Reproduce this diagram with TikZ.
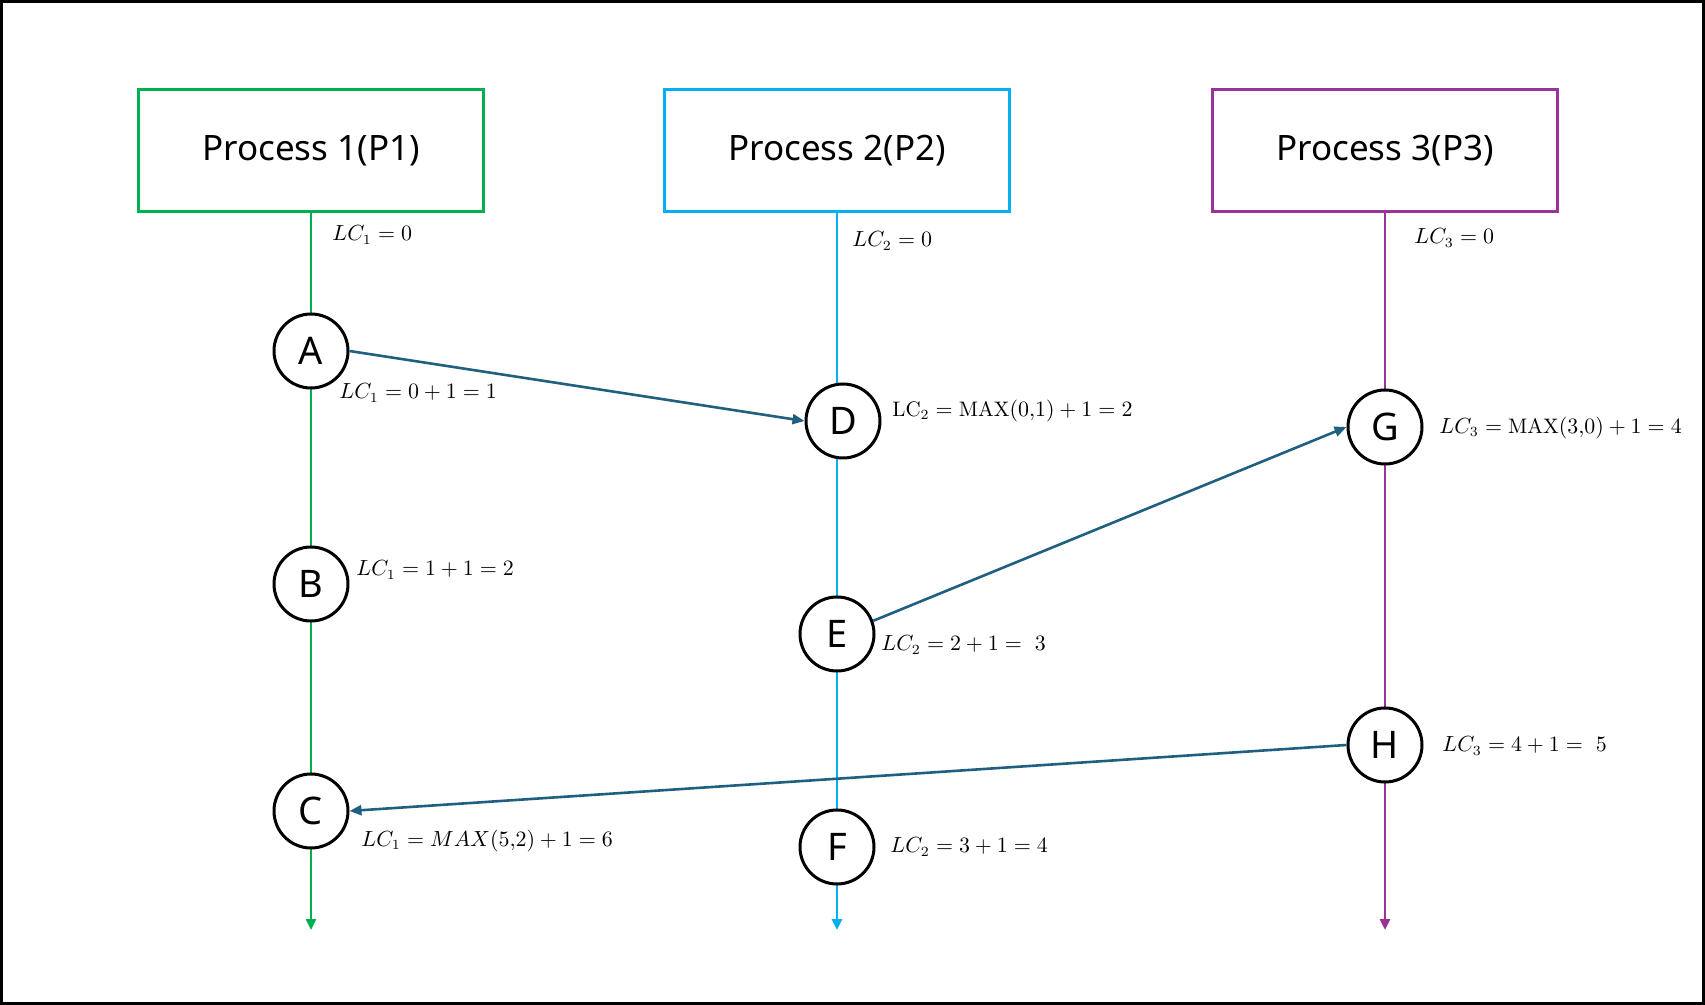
\documentclass[tikz,border=0pt]{standalone}
\usepackage{fontspec}
\newfontfamily\procfont{Noto Sans}
\usetikzlibrary{arrows.meta,positioning}

\definecolor{pgreen}{RGB}{0,176,80}
\definecolor{pblue}{RGB}{0,176,240}
\definecolor{ppurple}{RGB}{153,51,153}
\definecolor{msgblue}{RGB}{31,95,128}

\begin{document}
\begin{tikzpicture}[
  x=0.5pt, y=-0.5pt,
  proc/.style={draw, line width=1.5pt, minimum width=172.5pt, minimum height=61pt, font=\procfont\fontsize{17.5}{20}\selectfont},
  event/.style={draw, circle, fill=white, line width=1.5pt, minimum size=37pt, inner sep=0pt, font=\procfont\fontsize{19}{22}\selectfont},
  lc/.style={anchor=west, inner sep=0pt, font=\fontsize{10.5}{12}\selectfont},
  timeline/.style={line width=1.3pt, -{Triangle[length=5.5pt,width=5pt]}},
  msg/.style={draw=msgblue, line width=1.3pt, -{Triangle[length=6pt,width=5pt]}}
]
\useasboundingbox (0,0) rectangle (1705,1005);
\draw[line width=1.5pt] (1.5,1.5) rectangle (1703.5,1003.5);

% Processes
\node[proc, draw=pgreen] (p1) at (311,151) {Process 1(P1)};
\node[proc, draw=pblue] (p2) at (837,151) {Process 2(P2)};
\node[proc, draw=ppurple] (p3) at (1385,151) {Process 3(P3)};

\coordinate (end1) at (311,930);
\coordinate (end2) at (837,930);
\coordinate (end3) at (1385,930);

\draw[timeline, pgreen] (p1) -- (end1);
\draw[timeline, pblue] (p2) -- (end2);
\draw[timeline, ppurple] (p3) -- (end3);

% Events
\node[event] (a) at (311,351) {A};
\node[event] (b) at (311,584) {B};
\node[event] (c) at (311,811) {C};
\node[event] (d) at (843,421) {D};
\node[event] (e) at (837,634) {E};
\node[event] (f) at (837,847) {F};
\node[event] (g) at (1385,427) {G};
\node[event] (h) at (1385,745) {H};

% Logical clocks
\node[lc] (lc1) at (332,235) {$LC_1 = 0$};
\node[lc] (lc2) at (852,241) {$LC_2 = 0$};
\node[lc] (lc3) at (1414,238) {$LC_3 = 0$};
\node[lc] (lca) at (339,393) {$LC_1 = 0 + 1 = 1$};
\node[lc] (lcb) at (356,570) {$LC_1 = 1 + 1 = 2$};
\node[lc] (lcc) at (361,841) {$LC_1 = MAX(5{,}2) + 1 = 6$};
\node[lc] (lcd) at (892,411) {$\mathrm{LC}_2 = \mathrm{MAX}(0{,}1) + 1 = 2$};
\node[lc] (lce) at (881,645) {$LC_2 = 2 + 1 =\ 3$};
\node[lc] (lcf) at (890,847) {$LC_2 = 3 + 1 = 4$};
\node[lc] (lcg) at (1439,428) {$LC_3 = \mathrm{MAX}(3{,}0) + 1 = 4$};
\node[lc] (lch) at (1442,746) {$LC_3 = 4 + 1 =\ 5$};

% Messages
\draw[msg] (a.east) -- (d.west);
\draw[msg] (e.20) -- (g.west);
\draw[msg] (h.west) -- (c.east);

\end{tikzpicture}
\end{document}
